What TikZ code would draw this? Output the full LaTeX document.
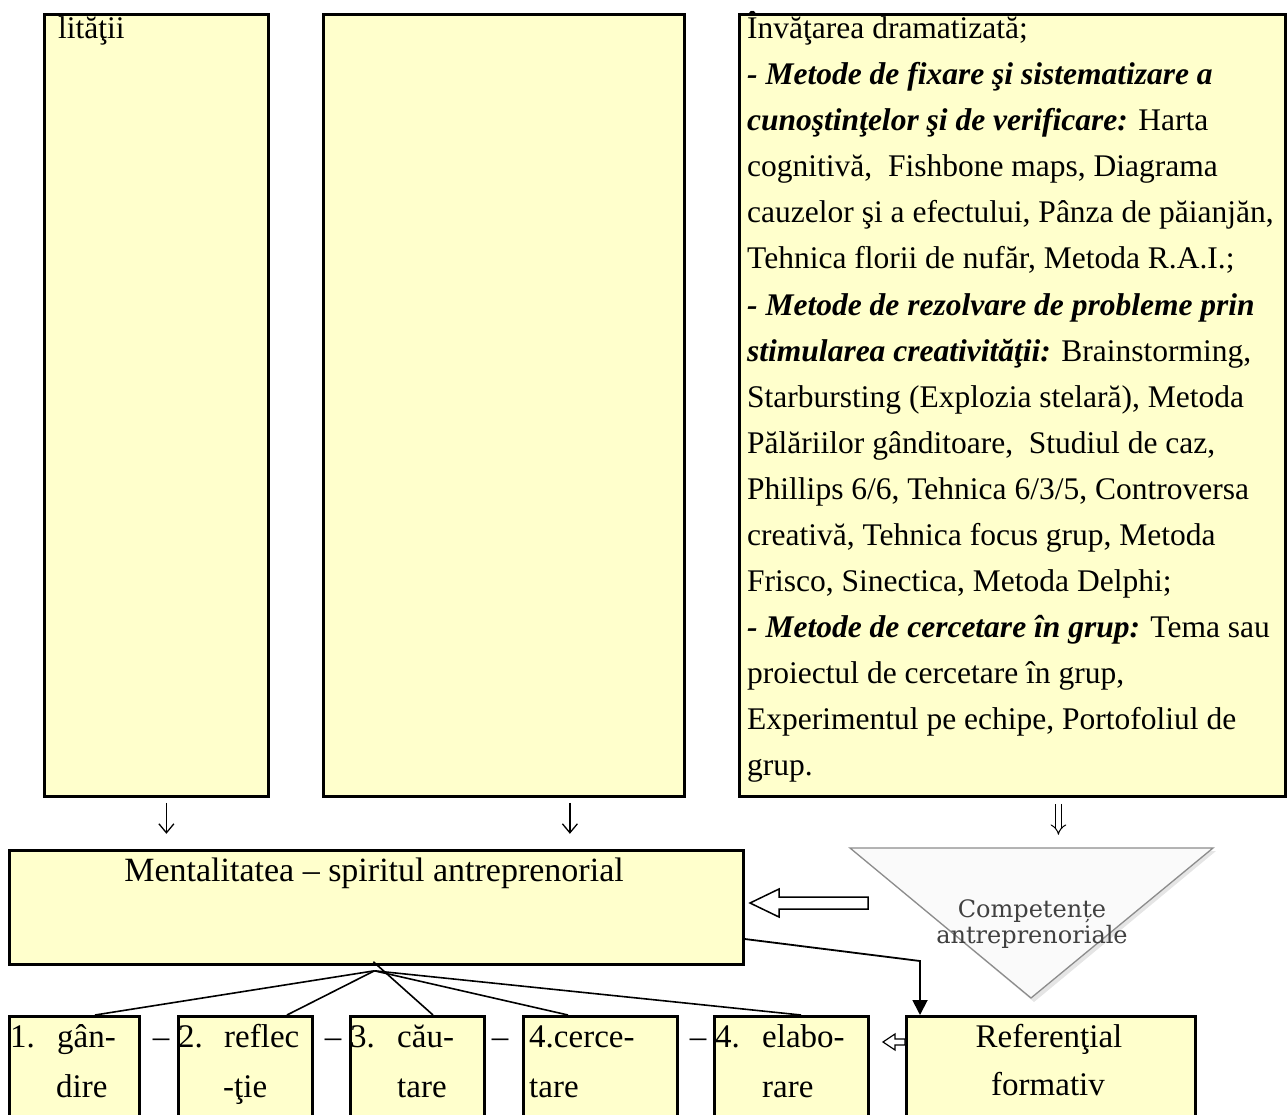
\documentclass[tikz,border=0pt]{standalone}
\usepackage{fontspec}
\setmainfont{Liberation Serif}
\newfontfamily\trifont{DejaVu Serif}
\usetikzlibrary{arrows.meta}
\definecolor{boxyellow}{HTML}{FFFFCC}
\begin{document}
\begin{tikzpicture}[x=1pt,y=-1pt,
  box/.style={draw=black, line width=2.8pt, fill=boxyellow, rectangle, inner sep=0pt, anchor=north west},
  txtR/.style={inner sep=0pt, anchor=base west, font=\fontsize{31.5}{46}\selectfont},
  txtB/.style={inner sep=0pt, anchor=base west, font=\fontsize{33}{40}\selectfont},
  txtC/.style={inner sep=0pt, anchor=base, font=\fontsize{33}{40}\selectfont},
  thinarr/.style={line width=1.3pt, -{Straight Barb[length=9pt,width=15pt,line width=1.3pt]}},
  dblarr/.style={double, double distance=4.5pt, line width=1pt, -{Implies}},
  hubline/.style={line width=1.6pt},
  hollow/.style={draw=black, line width=1.5pt, fill=white, line join=miter},
  tritext/.style={inner sep=0pt, anchor=base, font=\trifont\fontsize{24}{28}\selectfont, text=black!75}
]
\useasboundingbox (0,0) rectangle (1287,1115);
\clip (0,0) rectangle (1287,1115);

% top boxes
\node[box, minimum width=224pt, minimum height=782pt] (A) at (43,13) {};
\node[box, minimum width=361pt, minimum height=782pt] (B) at (322,13) {};
\node[box, minimum width=546pt, minimum height=782pt] (C) at (738,13) {};

\node[txtR] (a1) at (58,39) {lităţii};

\node[txtR] (c1) at (747,39) {Învăţarea dramatizată;};
\node[txtR] (c2) at (747,85) {\textbf{\textit{- Metode de fixare şi sistematizare a}}};
\node[txtR] (c3) at (747,131) {\textbf{\textit{cunoştinţelor şi de verificare:}} Harta};
\node[txtR] (c4) at (747,177) {cognitivă,\ \ Fishbone maps, Diagrama};
\node[txtR] (c5) at (747,223) {cauzelor şi a efectului, Pânza de păianjăn,};
\node[txtR] (c6) at (747,269) {Tehnica florii de nufăr, Metoda R.A.I.;};
\node[txtR] (c7) at (747,315) {\textbf{\textit{- Metode de rezolvare de probleme prin}}};
\node[txtR] (c8) at (747,361) {\textbf{\textit{stimularea creativităţii:}} Brainstorming,};
\node[txtR] (c9) at (747,407) {Starbursting (Explozia stelară), Metoda};
\node[txtR] (c10) at (747,453) {Pălăriilor gânditoare,\ \ Studiul de caz,};
\node[txtR] (c11) at (747,499) {Phillips 6/6, Tehnica 6/3/5, Controversa};
\node[txtR] (c12) at (747,545) {creativă, Tehnica focus grup, Metoda};
\node[txtR] (c13) at (747,591) {Frisco, Sinectica, Metoda Delphi;};
\node[txtR] (c14) at (747,637) {\textbf{\textit{- Metode de cercetare în grup:}} Tema sau};
\node[txtR] (c15) at (747,683) {proiectul de cercetare în grup,};
\node[txtR] (c16) at (747,729) {Experimentul pe echipe, Portofoliul de};
\node[txtR] (c17) at (747,775) {grup.};

% main box
\node[box, minimum width=734pt, minimum height=114pt] (M) at (8,849) {};
\node[inner sep=0pt, anchor=base, font=\fontsize{34}{40}\selectfont] (mt) at (374,881) {Mentalitatea – spiritul antreprenorial};

% down arrows
\draw[thinarr] ([shift={(10,5)}]A.south) -- ([shift={(10,36)}]A.south);
\draw[thinarr] ([shift={(66,5)}]B.south) -- ([shift={(66,36)}]B.south);
\draw[dblarr] ([shift={(46,6)}]C.south) -- ([shift={(46,37)}]C.south);

% triangle
\fill[black!10] (853,851) -- (1216,851) -- (1034,1002) -- cycle;
\draw[draw=black!45, line width=1.3pt, fill=black!2] (850,848) -- (1213,848) -- (1031,998) -- cycle;
\node[tritext] (tr1) at (1032,917) {Competențe};
\node[tritext] (tr2) at (1032,943) {antreprenoriale};

% big hollow arrow
\draw[hollow] (750,903) -- (779,889) -- (779,897) -- (868,897) -- (868,909) -- (779,909) -- (779,917) -- cycle;

% bottom boxes
\node[box, minimum width=130pt, minimum height=120pt] (b1) at (8,1015) {};
\node[box, minimum width=134pt, minimum height=120pt] (b2) at (177,1015) {};
\node[box, minimum width=134pt, minimum height=120pt] (b3) at (349,1015) {};
\node[box, minimum width=154pt, minimum height=120pt] (b4) at (522,1015) {};
\node[box, minimum width=154pt, minimum height=120pt] (b5) at (713,1015) {};
\node[box, minimum width=289pt, minimum height=120pt] (R) at (905,1015) {};

\node[txtB] (t1a) at (10,1047) {1.};
\node[txtB] (t1b) at (57,1047) {gân-};
\node[txtB] (t1c) at (56,1097) {dire};
\node[txtB] (t2a) at (178,1047) {2.};
\node[txtB] (t2b) at (224,1047) {reflec};
\node[txtB] (t2c) at (223,1097) {-ţie};
\node[txtB] (t3a) at (350,1047) {3.};
\node[txtB] (t3b) at (397,1047) {cău-};
\node[txtB] (t3c) at (397,1097) {tare};
\node[txtB] (t4a) at (529,1047) {4.cerce-};
\node[txtB] (t4c) at (529,1097) {tare};
\node[txtB] (t5a) at (715,1047) {4.};
\node[txtB] (t5b) at (762,1047) {elabo-};
\node[txtB] (t5c) at (762,1097) {rare};
\node[txtC] (d1) at (161,1047) {–};
\node[txtC] (d2) at (333,1047) {–};
\node[txtC] (d3) at (500,1047) {–};
\node[txtC] (d4) at (698,1047) {–};
\node[txtC] (r1) at (1049,1047) {Referenţial};
\node[txtC] (r2) at (1048,1095) {formativ};

% small hollow arrow
\draw[hollow, line width=1.2pt] (883,1042) -- (895,1034) -- (895,1039) -- (905,1039) -- (905,1045) -- (895,1045) -- (895,1050) -- cycle;

% hub connectors
\coordinate (hub) at ([shift={(-2,5)}]M.south);
\coordinate (hubtop) at ([shift={(-3,-4)}]M.south);
\draw[hubline] (hub) -- ([shift={(87,0)}]b1.north west);
\draw[hubline] (hub) -- ([shift={(110,0)}]b2.north west);
\draw[hubline] (hubtop) -- ([shift={(84,0)}]b3.north west);
\draw[hubline] (hub) -- ([shift={(46,0)}]b4.north west);
\draw[hubline] (hub) -- ([shift={(88,0)}]b5.north west);

% main -> referential
\draw[line width=1.8pt, -{Triangle[length=15pt,width=15pt]}] ([shift={(0,90)}]M.north east) -- ([shift={(15,-54)}]R.north west) -- ([shift={(15,0)}]R.north west);
\end{tikzpicture}
\end{document}
